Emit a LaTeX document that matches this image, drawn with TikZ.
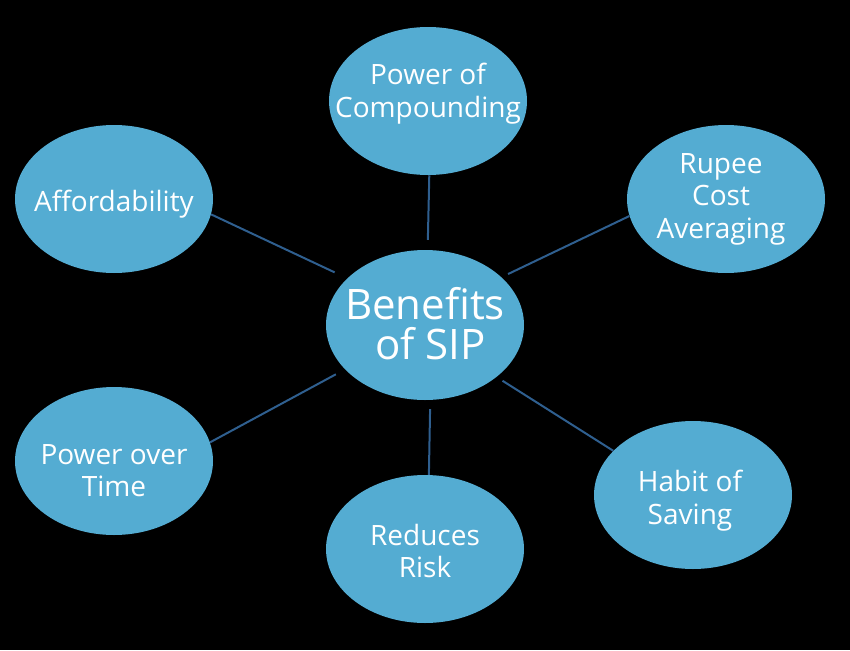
\documentclass[tikz,border=0pt]{standalone}
\usepackage{fontspec}
\setmainfont{Open Sans}
\usetikzlibrary{shapes.geometric}
\definecolor{bub}{RGB}{84,172,210}
\definecolor{lnk}{RGB}{47,95,143}
\tikzset{
  bubble/.style={ellipse, fill=bub, draw=none, inner sep=0pt, minimum width=148.5pt, minimum height=111pt},
  hub/.style={ellipse, fill=bub, draw=none, inner sep=0pt, minimum width=148.5pt, minimum height=112.5pt},
  txt/.style={text=white, align=center, inner sep=0pt, font=\fontsize{21}{24.3}\selectfont},
  hubtxt/.style={text=white, align=center, inner sep=0pt, font=\fontsize{31.5}{30.5}\selectfont},
  link/.style={draw=lnk, line width=1.5pt}
}
\begin{document}
\begin{tikzpicture}[x=0.75pt, y=-0.75pt]
\fill[black] (0,0) rectangle (850,650);
\useasboundingbox (0,0) rectangle (850,650);
% bubbles
\node[hub] (ctr) at (425,325) {};
\node[bubble] (pc) at (428,101) {};
\node[bubble] (rca) at (726,199) {};
\node[bubble] (aff) at (114,199) {};
\node[bubble] (pot) at (114,461) {};
\node[bubble] (rr) at (425,549) {};
\node[bubble] (hos) at (693,495) {};
% texts
\node[hubtxt] (ctrt) at (425,323.5) {Benefits\\\hspace*{0.26em}of SIP};
\node[txt] (pct) at (428,93.5) {Power of\\Compounding};
\node[txt] (rcat) at (721,199) {Rupee\\Cost\\Averaging};
\node[txt] (afft) at (114,204) {Affordability};
\node[txt] (pott) at (114,470.5) {Power over\\Time};
\node[txt] (rrt) at (425,551) {Reduces\\Risk};
\node[txt] (host) at (690,500.5) {Habit of\\Saving};
% connectors
\draw[link, shorten >=10.4pt] (aff.-9.2) -- (ctr.149.5);
\draw[link, shorten >=7.5pt] (pc.-89) -- (ctr.88);
\draw[link, shorten >=5.4pt] (rca.-170.6) -- (ctr.32.4);
\draw[link, shorten >=7.7pt] (pot.11.5) -- (ctr.-151.9);
\draw[link, shorten <=6.75pt] (ctr.-86) -- (rr.87);
\draw[link, shorten <=5.2pt] (ctr.-36) -- (hos.151.2);
\end{tikzpicture}
\end{document}
